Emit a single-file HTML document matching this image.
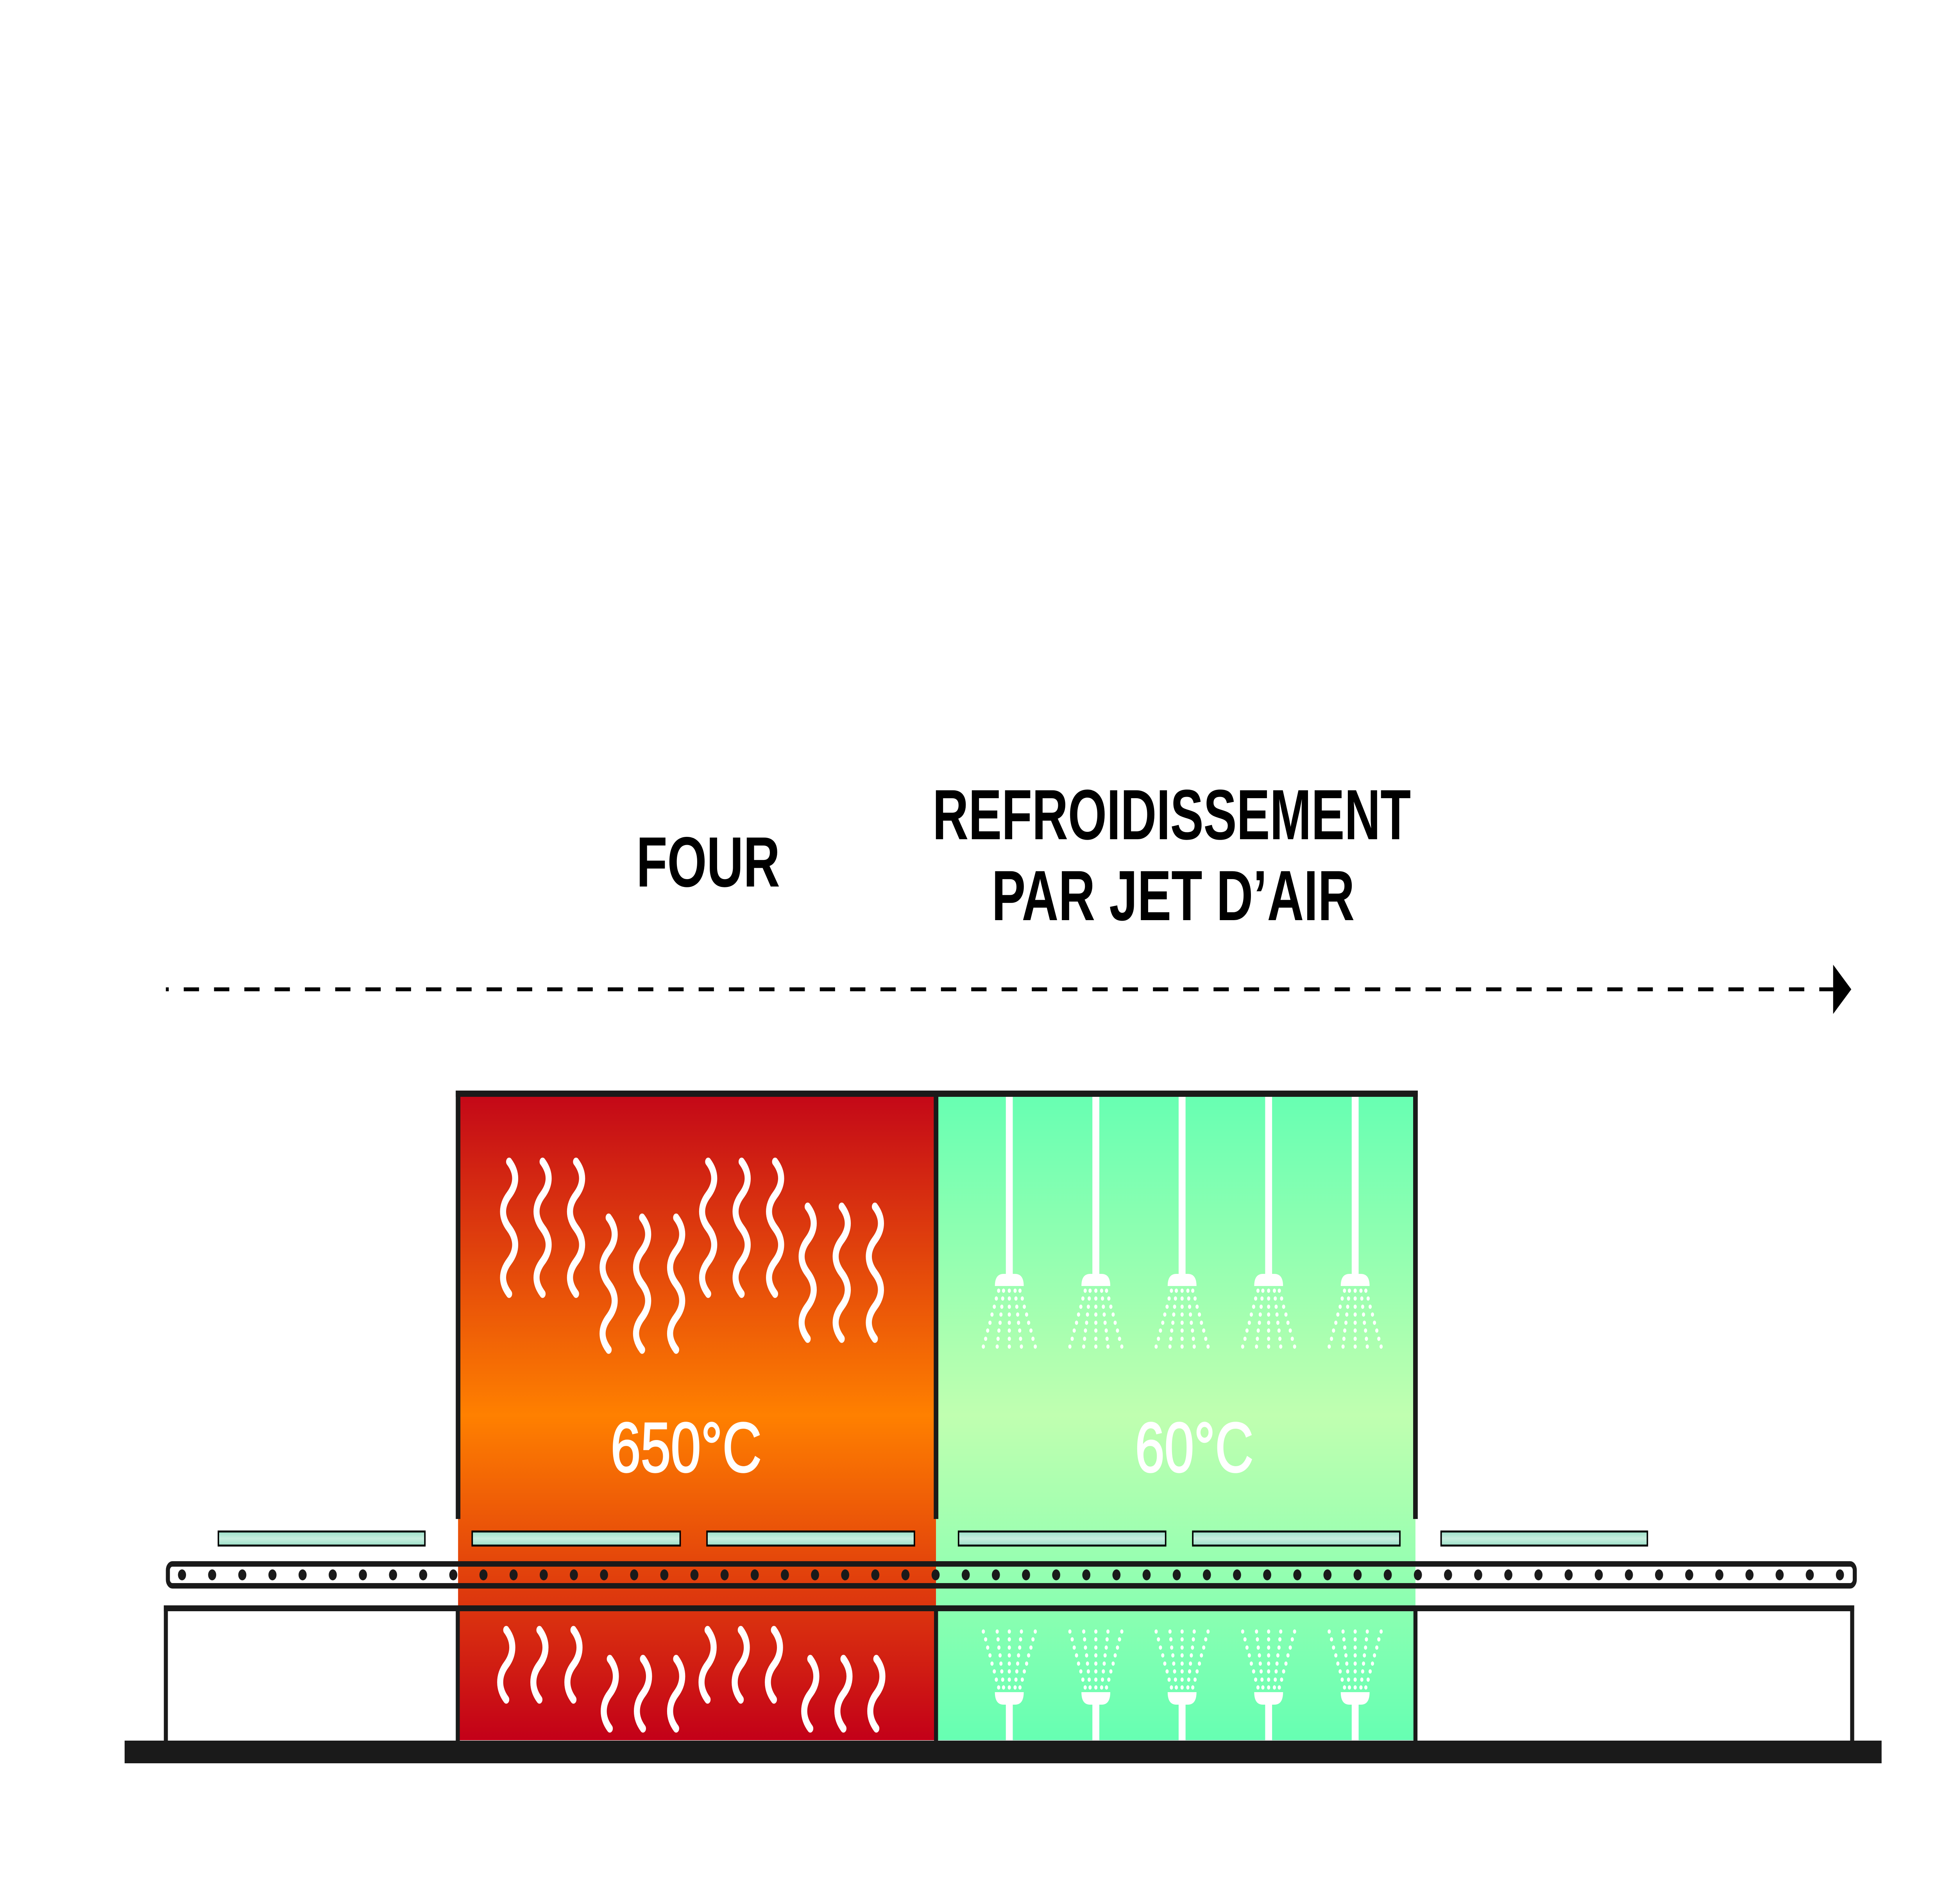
<!DOCTYPE html>
<html><head><meta charset="utf-8"><style>
html,body{margin:0;padding:0;background:#fff;width:100%;height:100%;overflow:hidden;}
svg{display:block;width:100vw;height:100vh;}
</style></head><body>
<svg viewBox="0 0 6774 4871" preserveAspectRatio="none" xmlns="http://www.w3.org/2000/svg">
<defs>
<linearGradient id="gOven" x1="0" y1="2790" x2="0" y2="4452" gradientUnits="userSpaceOnUse">
<stop offset="0" stop-color="#c30618"/><stop offset="0.5" stop-color="#ff8000"/><stop offset="1" stop-color="#c30018"/>
</linearGradient>
<linearGradient id="gCool" x1="0" y1="2790" x2="0" y2="4452" gradientUnits="userSpaceOnUse">
<stop offset="0" stop-color="#66ffb2"/><stop offset="0.5" stop-color="#c0ffb0"/><stop offset="1" stop-color="#66ffb2"/>
</linearGradient>
<linearGradient id="gGlass" x1="0" y1="0" x2="0" y2="1">
<stop offset="0" stop-color="#9be0c8"/><stop offset="0.5" stop-color="#c8eedf"/><stop offset="1" stop-color="#9be0c8"/>
</linearGradient>
<path id="sqT" d="M0,0 C28,28 28,57 0,85 S-28,142 0,170 S28,227 0,255 S-28,310 0,338" fill="none" stroke="#fff" stroke-width="21" stroke-linecap="round"/>
<path id="sqB" d="M0,0 C28,28 28,61 0,89 S-28,150 0,178" fill="none" stroke="#fff" stroke-width="21" stroke-linecap="round"/>
<g id="spray" fill="#fff">
<circle cx="-37" cy="0" r="5.5"/><circle cx="-45" cy="20" r="5.5"/><circle cx="-52" cy="41" r="5.5"/><circle cx="-60" cy="61" r="5.5"/><circle cx="-67" cy="82" r="5.5"/><circle cx="-75" cy="102" r="5.5"/><circle cx="-82" cy="123" r="5.5"/><circle cx="-90" cy="143" r="5.5"/>
<circle cx="37" cy="0" r="5.5"/><circle cx="45" cy="20" r="5.5"/><circle cx="52" cy="41" r="5.5"/><circle cx="60" cy="61" r="5.5"/><circle cx="67" cy="82" r="5.5"/><circle cx="75" cy="102" r="5.5"/><circle cx="82" cy="123" r="5.5"/><circle cx="90" cy="143" r="5.5"/>
<circle cx="-20" cy="0" r="5.5"/><circle cx="-23" cy="20" r="5.5"/><circle cx="-26" cy="41" r="5.5"/><circle cx="-29" cy="61" r="5.5"/><circle cx="-32" cy="82" r="5.5"/><circle cx="-36" cy="102" r="5.5"/><circle cx="-39" cy="123" r="5.5"/><circle cx="-42" cy="143" r="5.5"/>
<circle cx="20" cy="0" r="5.5"/><circle cx="23" cy="20" r="5.5"/><circle cx="26" cy="41" r="5.5"/><circle cx="29" cy="61" r="5.5"/><circle cx="32" cy="82" r="5.5"/><circle cx="36" cy="102" r="5.5"/><circle cx="39" cy="123" r="5.5"/><circle cx="42" cy="143" r="5.5"/>
<circle cx="0" cy="0" r="5.5"/><circle cx="0" cy="20" r="5.5"/><circle cx="0" cy="41" r="5.5"/><circle cx="0" cy="61" r="5.5"/><circle cx="0" cy="82" r="5.5"/><circle cx="0" cy="102" r="5.5"/><circle cx="0" cy="123" r="5.5"/><circle cx="0" cy="143" r="5.5"/>
</g>
<g id="showerTop">
<rect x="-12" y="2798" width="24" height="465" fill="#fff"/>
<path d="M-50,3290 Q-50,3259 -20,3259 L20,3259 Q50,3259 50,3290 Z" fill="#fff"/>
<use href="#spray" transform="translate(0,3302)"/>
</g>
<g id="showerBot">
<rect x="-12" y="4355" width="24" height="97" fill="#fff"/>
<path d="M-50,4329 L50,4329 Q50,4361 20,4361 L-20,4361 Q-50,4361 -50,4329 Z" fill="#fff"/>
<use href="#spray" transform="translate(0,4317) scale(1,-1)"/>
</g>
</defs>

<g font-family="Liberation Sans, sans-serif" font-weight="bold" fill="#000" font-size="182">
<text x="2206" y="2268" textLength="498" lengthAdjust="spacingAndGlyphs">FOUR</text>
<text x="3233" y="2147" textLength="1658" lengthAdjust="spacingAndGlyphs">REFROIDISSEMENT</text>
<text x="3438" y="2354" textLength="1258" lengthAdjust="spacingAndGlyphs">PAR JET D’AIR</text>
</g>

<line x1="575" y1="2531" x2="6355" y2="2531" stroke="#000" stroke-width="10" stroke-dasharray="10 52 53 52 53 52 53 52 53 52 53 52 53 52 53 52 53 52 53 52 53 52 53 52 53 52 53 52 53 52 53 52 53 52 53 52 53 52 53 52 53 52 53 52 53 52 53 52 53 52 53 52 53 52 53 52 53 52 53 52 53 52 53 52 53 52 53 52 53 52 53 52 53 52 53 52 53 52 53 52 53 52 53 52 53 52 53 52 53 52 53 52 53 52 53 52 53 52 53 52 53 52 53 52 53 52 53 52 53 52 53 52 3000 0"/>
<polygon points="6355,2468 6418,2531 6355,2594" fill="#000"/>

<rect x="1588" y="2798" width="1657" height="1654" fill="url(#gOven)"/>
<rect x="3245" y="2798" width="1662" height="1654" fill="url(#gCool)"/>

<use href="#sqT" x="1765" y="2972"/><use href="#sqT" x="1881" y="2972"/><use href="#sqT" x="1997" y="2972"/>
<use href="#sqT" x="2110" y="3115"/><use href="#sqT" x="2226" y="3115"/><use href="#sqT" x="2344" y="3115"/>
<use href="#sqT" x="2455" y="2972"/><use href="#sqT" x="2571" y="2972"/><use href="#sqT" x="2687" y="2972"/>
<use href="#sqT" x="2800" y="3087"/><use href="#sqT" x="2918" y="3087"/><use href="#sqT" x="3033" y="3087"/>
<use href="#sqB" x="1755" y="4170"/><use href="#sqB" x="1870" y="4170"/><use href="#sqB" x="1988" y="4170"/>
<use href="#sqB" x="2114" y="4244"/><use href="#sqB" x="2229" y="4244"/><use href="#sqB" x="2344" y="4244"/>
<use href="#sqB" x="2453" y="4170"/><use href="#sqB" x="2568" y="4170"/><use href="#sqB" x="2683" y="4170"/>
<use href="#sqB" x="2809" y="4244"/><use href="#sqB" x="2924" y="4244"/><use href="#sqB" x="3038" y="4244"/>

<use href="#showerTop" x="3499"/><use href="#showerTop" x="3799"/><use href="#showerTop" x="4098"/><use href="#showerTop" x="4398"/><use href="#showerTop" x="4698"/>
<use href="#showerBot" x="3499"/><use href="#showerBot" x="3799"/><use href="#showerBot" x="4098"/><use href="#showerBot" x="4398"/><use href="#showerBot" x="4698"/>

<g font-family="Liberation Sans, sans-serif" fill="#fff" font-size="180" stroke="#fff" stroke-width="4">
<text x="2117" y="3765" textLength="523" lengthAdjust="spacingAndGlyphs">650°C</text>
<text x="3935" y="3765" textLength="410" lengthAdjust="spacingAndGlyphs">60°C</text>
</g>

<g fill="#1a1a1a">
<rect x="1580" y="2790" width="3335" height="16"/>
<rect x="1580" y="2790" width="16" height="1096"/>
<rect x="3237" y="2790" width="16" height="1096"/>
<rect x="4899" y="2790" width="16" height="1096"/>
<rect x="568" y="4107" width="5860" height="15"/>
<rect x="568" y="4107" width="14" height="346"/>
<rect x="1580" y="4107" width="14" height="346"/>
<rect x="3238" y="4107" width="14" height="346"/>
<rect x="4900" y="4107" width="14" height="346"/>
<rect x="6414" y="4107" width="14" height="346"/>
<rect x="432" y="4453" width="6091" height="58"/>
</g>

<g fill="url(#gGlass)" stroke="#000" stroke-width="5">
<rect x="757" y="3918" width="716" height="36"/>
<rect x="1637" y="3918" width="721" height="36"/>
<rect x="2451" y="3918" width="719" height="36"/>
<rect x="3323" y="3918" width="718" height="36"/>
<rect x="4135" y="3918" width="718" height="36"/>
<rect x="4996" y="3918" width="715" height="36"/>
</g>

<rect x="582" y="4001" width="5848" height="56" rx="16" fill="none" stroke="#1a1a1a" stroke-width="14"/>
<g fill="#1a1a1a">
<circle cx="631" cy="4029" r="14"/><circle cx="735.5" cy="4029" r="14"/><circle cx="840" cy="4029" r="14"/><circle cx="944.5" cy="4029" r="14"/><circle cx="1049" cy="4029" r="14"/><circle cx="1153.5" cy="4029" r="14"/><circle cx="1258" cy="4029" r="14"/><circle cx="1362.5" cy="4029" r="14"/><circle cx="1467" cy="4029" r="14"/><circle cx="1571.5" cy="4029" r="14"/>
<circle cx="1676" cy="4029" r="14"/><circle cx="1780.5" cy="4029" r="14"/><circle cx="1885" cy="4029" r="14"/><circle cx="1989.5" cy="4029" r="14"/><circle cx="2094" cy="4029" r="14"/><circle cx="2198.5" cy="4029" r="14"/><circle cx="2303" cy="4029" r="14"/><circle cx="2407.5" cy="4029" r="14"/><circle cx="2512" cy="4029" r="14"/><circle cx="2616.5" cy="4029" r="14"/>
<circle cx="2721" cy="4029" r="14"/><circle cx="2825.5" cy="4029" r="14"/><circle cx="2930" cy="4029" r="14"/><circle cx="3034.5" cy="4029" r="14"/><circle cx="3139" cy="4029" r="14"/><circle cx="3243.5" cy="4029" r="14"/><circle cx="3348" cy="4029" r="14"/><circle cx="3452.5" cy="4029" r="14"/><circle cx="3557" cy="4029" r="14"/><circle cx="3661.5" cy="4029" r="14"/>
<circle cx="3766" cy="4029" r="14"/><circle cx="3870.5" cy="4029" r="14"/><circle cx="3975" cy="4029" r="14"/><circle cx="4079.5" cy="4029" r="14"/><circle cx="4184" cy="4029" r="14"/><circle cx="4288.5" cy="4029" r="14"/><circle cx="4393" cy="4029" r="14"/><circle cx="4497.5" cy="4029" r="14"/><circle cx="4602" cy="4029" r="14"/><circle cx="4706.5" cy="4029" r="14"/>
<circle cx="4811" cy="4029" r="14"/><circle cx="4915.5" cy="4029" r="14"/><circle cx="5020" cy="4029" r="14"/><circle cx="5124.5" cy="4029" r="14"/><circle cx="5229" cy="4029" r="14"/><circle cx="5333.5" cy="4029" r="14"/><circle cx="5438" cy="4029" r="14"/><circle cx="5542.5" cy="4029" r="14"/><circle cx="5647" cy="4029" r="14"/><circle cx="5751.5" cy="4029" r="14"/>
<circle cx="5856" cy="4029" r="14"/><circle cx="5960.5" cy="4029" r="14"/><circle cx="6065" cy="4029" r="14"/><circle cx="6169.5" cy="4029" r="14"/><circle cx="6274" cy="4029" r="14"/><circle cx="6378.5" cy="4029" r="14"/>
</g>
</svg>
</body></html>
